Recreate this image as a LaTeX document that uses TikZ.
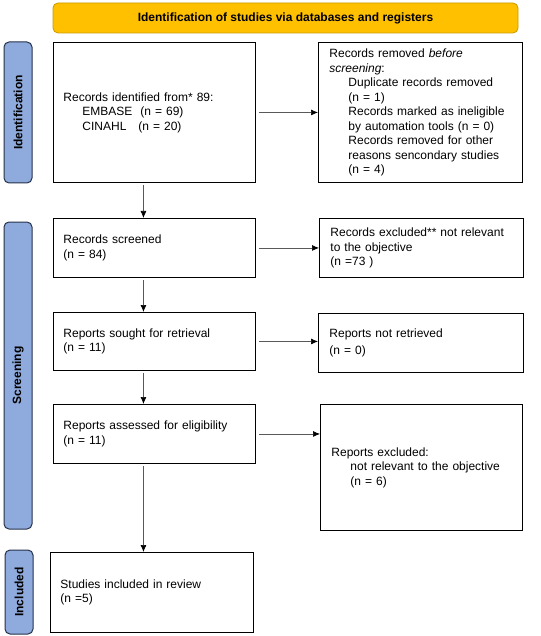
\documentclass[tikz,border=0pt]{standalone}
\usepackage{fontspec}
\setmainfont{Liberation Sans}
\usepackage{tikz}
\usetikzlibrary{arrows.meta}
\usetikzlibrary{positioning}
\definecolor{bannerfill}{HTML}{FFC000}
\definecolor{bannerline}{HTML}{C89A00}
\definecolor{phasefill}{HTML}{8FAADC}
\definecolor{phaseline}{HTML}{26324A}
\tikzset{
    box/.style={
           rectangle,
           draw=black, line width=0.9pt,
           inner xsep=10pt, inner ysep=2pt,
           align=left,
           font=\fontsize{12}{14.5}\selectfont,
           },
    phase/.style={
           rectangle,
           rounded corners=5pt,
           fill=phasefill, draw=phaseline, line width=1pt,
           rotate=90,
           font=\bfseries\fontsize{12}{14}\selectfont,
           },
    banner/.style={
           rectangle,
           rounded corners=5pt,
           fill=bannerfill, draw=bannerline, line width=0.8pt,
           font=\bfseries\fontsize{12}{14}\selectfont,
           },
    flow/.style={
           draw=black!65, line width=0.7pt,
           -{Latex[black,length=7pt,width=6pt]},
           },
}
\newcommand{\ind}{\hspace*{19pt}}

\begin{document}
\begin{tikzpicture}[x=1pt,y=1pt]
    \useasboundingbox (0,0) rectangle (540,-636);

    % header and phases
    \node[banner,minimum width=465pt,minimum height=30pt] (head) at (285.5,-18)
        {Identification of studies via databases and registers};
    \node[phase,minimum width=141pt,minimum height=28pt] (P1) at (18,-112.5) {Identification};
    \node[phase,minimum width=307pt,minimum height=28pt] (P2) at (18,-375.5) {Screening};
    \node[phase,minimum width=84pt,minimum height=28pt] (P3) at (19,-592) {Included};

    % left column
    \node[box,anchor=north west,text width=182pt,minimum height=140pt] at (53,-42)
        (ident) {Records identified from* 89:\\\ind EMBASE\ \ (n = 69)\\\ind CINAHL\ \ \ (n = 20)};
    \node[box,anchor=north west,text width=182pt,minimum height=59pt] at (53,-218)
        (screen) {Records screened\\(n = 84)};
    \node[box,anchor=north west,text width=182pt,minimum height=58pt] at (53,-312)
        (sought) {Reports sought for retrieval\\(n = 11)};
    \node[box,anchor=north west,text width=182pt,minimum height=59pt] at (53,-404)
        (assess) {Reports assessed for eligibility\\(n = 11)};
    \node[box,anchor=north west,text width=183pt,minimum height=80pt] at (50,-552)
        (incl) {Studies included in review\\(n =5)};

    % right column
    \node[box,anchor=north west,text width=182pt,minimum height=140pt,inner xsep=11pt] at (318,-42)
        (removed) {Records removed \textit{before}\\\textit{screening}:\\\ind Duplicate records removed\\\ind (n = 1)\\\ind Records marked as ineligible\\\ind by automation tools (n = 0)\\\ind Records removed for other\\\ind reasons sencondary studies\\\ind (n = 4)};
    \node[box,anchor=north west,text width=182pt,minimum height=59pt,inner xsep=11pt] at (319,-218)
        (excl) {Records excluded** not relevant\\to the objective\\(n =73 )};
    \node[box,anchor=north west,text width=183pt,minimum height=59pt,inner xsep=11pt,
          font=\fontsize{12}{17.5}\selectfont] at (318,-313)
        (notret) {Reports not retrieved\\(n = 0)};
    \node[box,anchor=north west,text width=180pt,minimum height=126pt,inner xsep=11pt] at (320,-404)
        (repexcl) {Reports excluded:\\\ind not relevant to the objective\\\ind (n = 6)};

    % connectors
    \draw[flow] ([xshift=3pt]ident.east) -- (ident.east -| removed.west);
    \draw[flow] ([xshift=3pt]screen.east) -- (screen.east -| excl.west);
    \draw[flow] ([xshift=3pt]sought.east) -- (sought.east -| notret.west);
    \draw[flow] ([xshift=3pt]assess.east) -- (assess.east -| repexcl.west);
    \draw[flow] ([shift={(-11,-2)}]ident.south) -- ([xshift=-11pt]ident.south |- screen.north);
    \draw[flow] ([shift={(-11,-2)}]screen.south) -- ([xshift=-11pt]screen.south |- sought.north);
    \draw[flow] ([shift={(-11,-2)}]sought.south) -- ([xshift=-11pt]sought.south |- assess.north);
    \draw[flow] ([shift={(-11,-2)}]assess.south) -- ([xshift=-11pt]assess.south |- incl.north);

\end{tikzpicture}
\end{document}
